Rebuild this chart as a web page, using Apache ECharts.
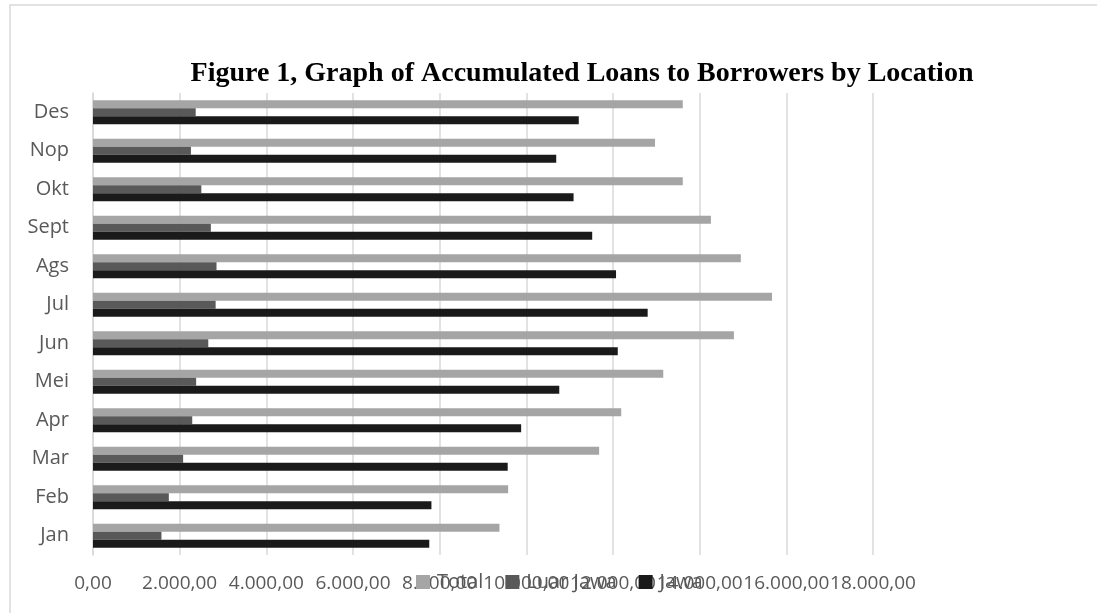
<!DOCTYPE html>
<html>
<head>
<meta charset="utf-8">
<script src="https://cdn.jsdelivr.net/npm/echarts@6/dist/echarts.min.js"></script>
<style>
  html, body { margin: 0; padding: 0; background: #fff; }
  #main { width: 1097px; height: 613px; }
</style>
</head>
<body>
<div id="main"></div>
<script>
// months, bottom to top
const months = ['Jan', 'Feb', 'Mar', 'Apr', 'Mei', 'Jun', 'Jul', 'Ags', 'Sept', 'Okt', 'Nop', 'Des']
// values in thousands (axis reads 2.000,00 ... 18.000,00)
const total = [9380, 9580, 11680, 12190, 13160, 14790, 15670, 14950, 14260, 13610, 12970, 13610]
const luarJawa = [1580, 1750, 2080, 2290, 2380, 2660, 2830, 2850, 2720, 2500, 2260, 2370]
const jawa = [7760, 7810, 9570, 9880, 10760, 12110, 12800, 12070, 11520, 11090, 10690, 11210]
const legendNames = ['Total', 'Luar Jawa', 'Jawa']

// 2000 -> "2.000,00"
function fmtId (v) {
  const parts = v.toFixed(2).split('.')
  parts[0] = parts[0].replace(/\B(?=(\d{3})+(?!\d))/g, '.')
  return parts.join(',')
}

const labelFont = '"Open Sans", "DejaVu Sans", sans-serif'

const chart = echarts.init(document.getElementById('main'))
const option = {
  backgroundColor: '#fff',
  animation: false,
  title: {
    text: 'Figure 1, Graph of Accumulated Loans to Borrowers by Location',
    left: 577,
    top: 55,
    textAlign: 'center',
    textStyle: {
      fontFamily: '"Liberation Serif", "DejaVu Serif", serif',
      fontWeight: 'bold',
      fontSize: 28,
      color: '#000'
    }
  },
  graphic: [{
    type: 'rect',
    shape: { x: 10, y: 5, width: 1200, height: 700 },
    style: { fill: 'none', stroke: '#d9d9d9', lineWidth: 1.5 },
    silent: true
  }],
  legend: {
    data: legendNames,
    left: 416,
    top: 572,
    padding: 0,
    itemWidth: 14,
    itemHeight: 14,
    itemGap: 22,
    icon: 'rect',
    textStyle: { fontFamily: labelFont, fontSize: 20, color: '#595959', padding: [0, 0, 0, 2] }
  },
  grid: { left: 93, right: 224, top: 93, bottom: 58 },
  xAxis: {
    type: 'value',
    min: 0,
    max: 18000,
    interval: 2000,
    axisLine: { show: false },
    axisTick: { show: false },
    splitLine: { lineStyle: { color: '#d9d9d9', width: 1.5 } },
    axisLabel: {
      margin: 19,
      fontFamily: labelFont,
      fontSize: 19,
      color: '#595959',
      showMinLabel: true,
      showMaxLabel: true,
      hideOverlap: false,
      formatter: fmtId
    }
  },
  yAxis: {
    type: 'category',
    data: months,
    axisLine: { lineStyle: { color: '#d9d9d9', width: 1.5 } },
    axisTick: { show: false },
    axisLabel: {
      margin: 24,
      fontFamily: labelFont,
      fontSize: 20,
      color: '#595959'
    }
  },
  series: [
    { name: 'Total', type: 'bar', data: total, barWidth: 8, barGap: '0%', itemStyle: { color: '#a5a5a5' } },
    { name: 'Luar Jawa', type: 'bar', data: luarJawa, barWidth: 8, barGap: '0%', itemStyle: { color: '#595959' } },
    { name: 'Jawa', type: 'bar', data: jawa, barWidth: 8, barGap: '0%', itemStyle: { color: '#1a1a1a' } }
  ]
}
chart.setOption(option)
</script>
</body>
</html>
